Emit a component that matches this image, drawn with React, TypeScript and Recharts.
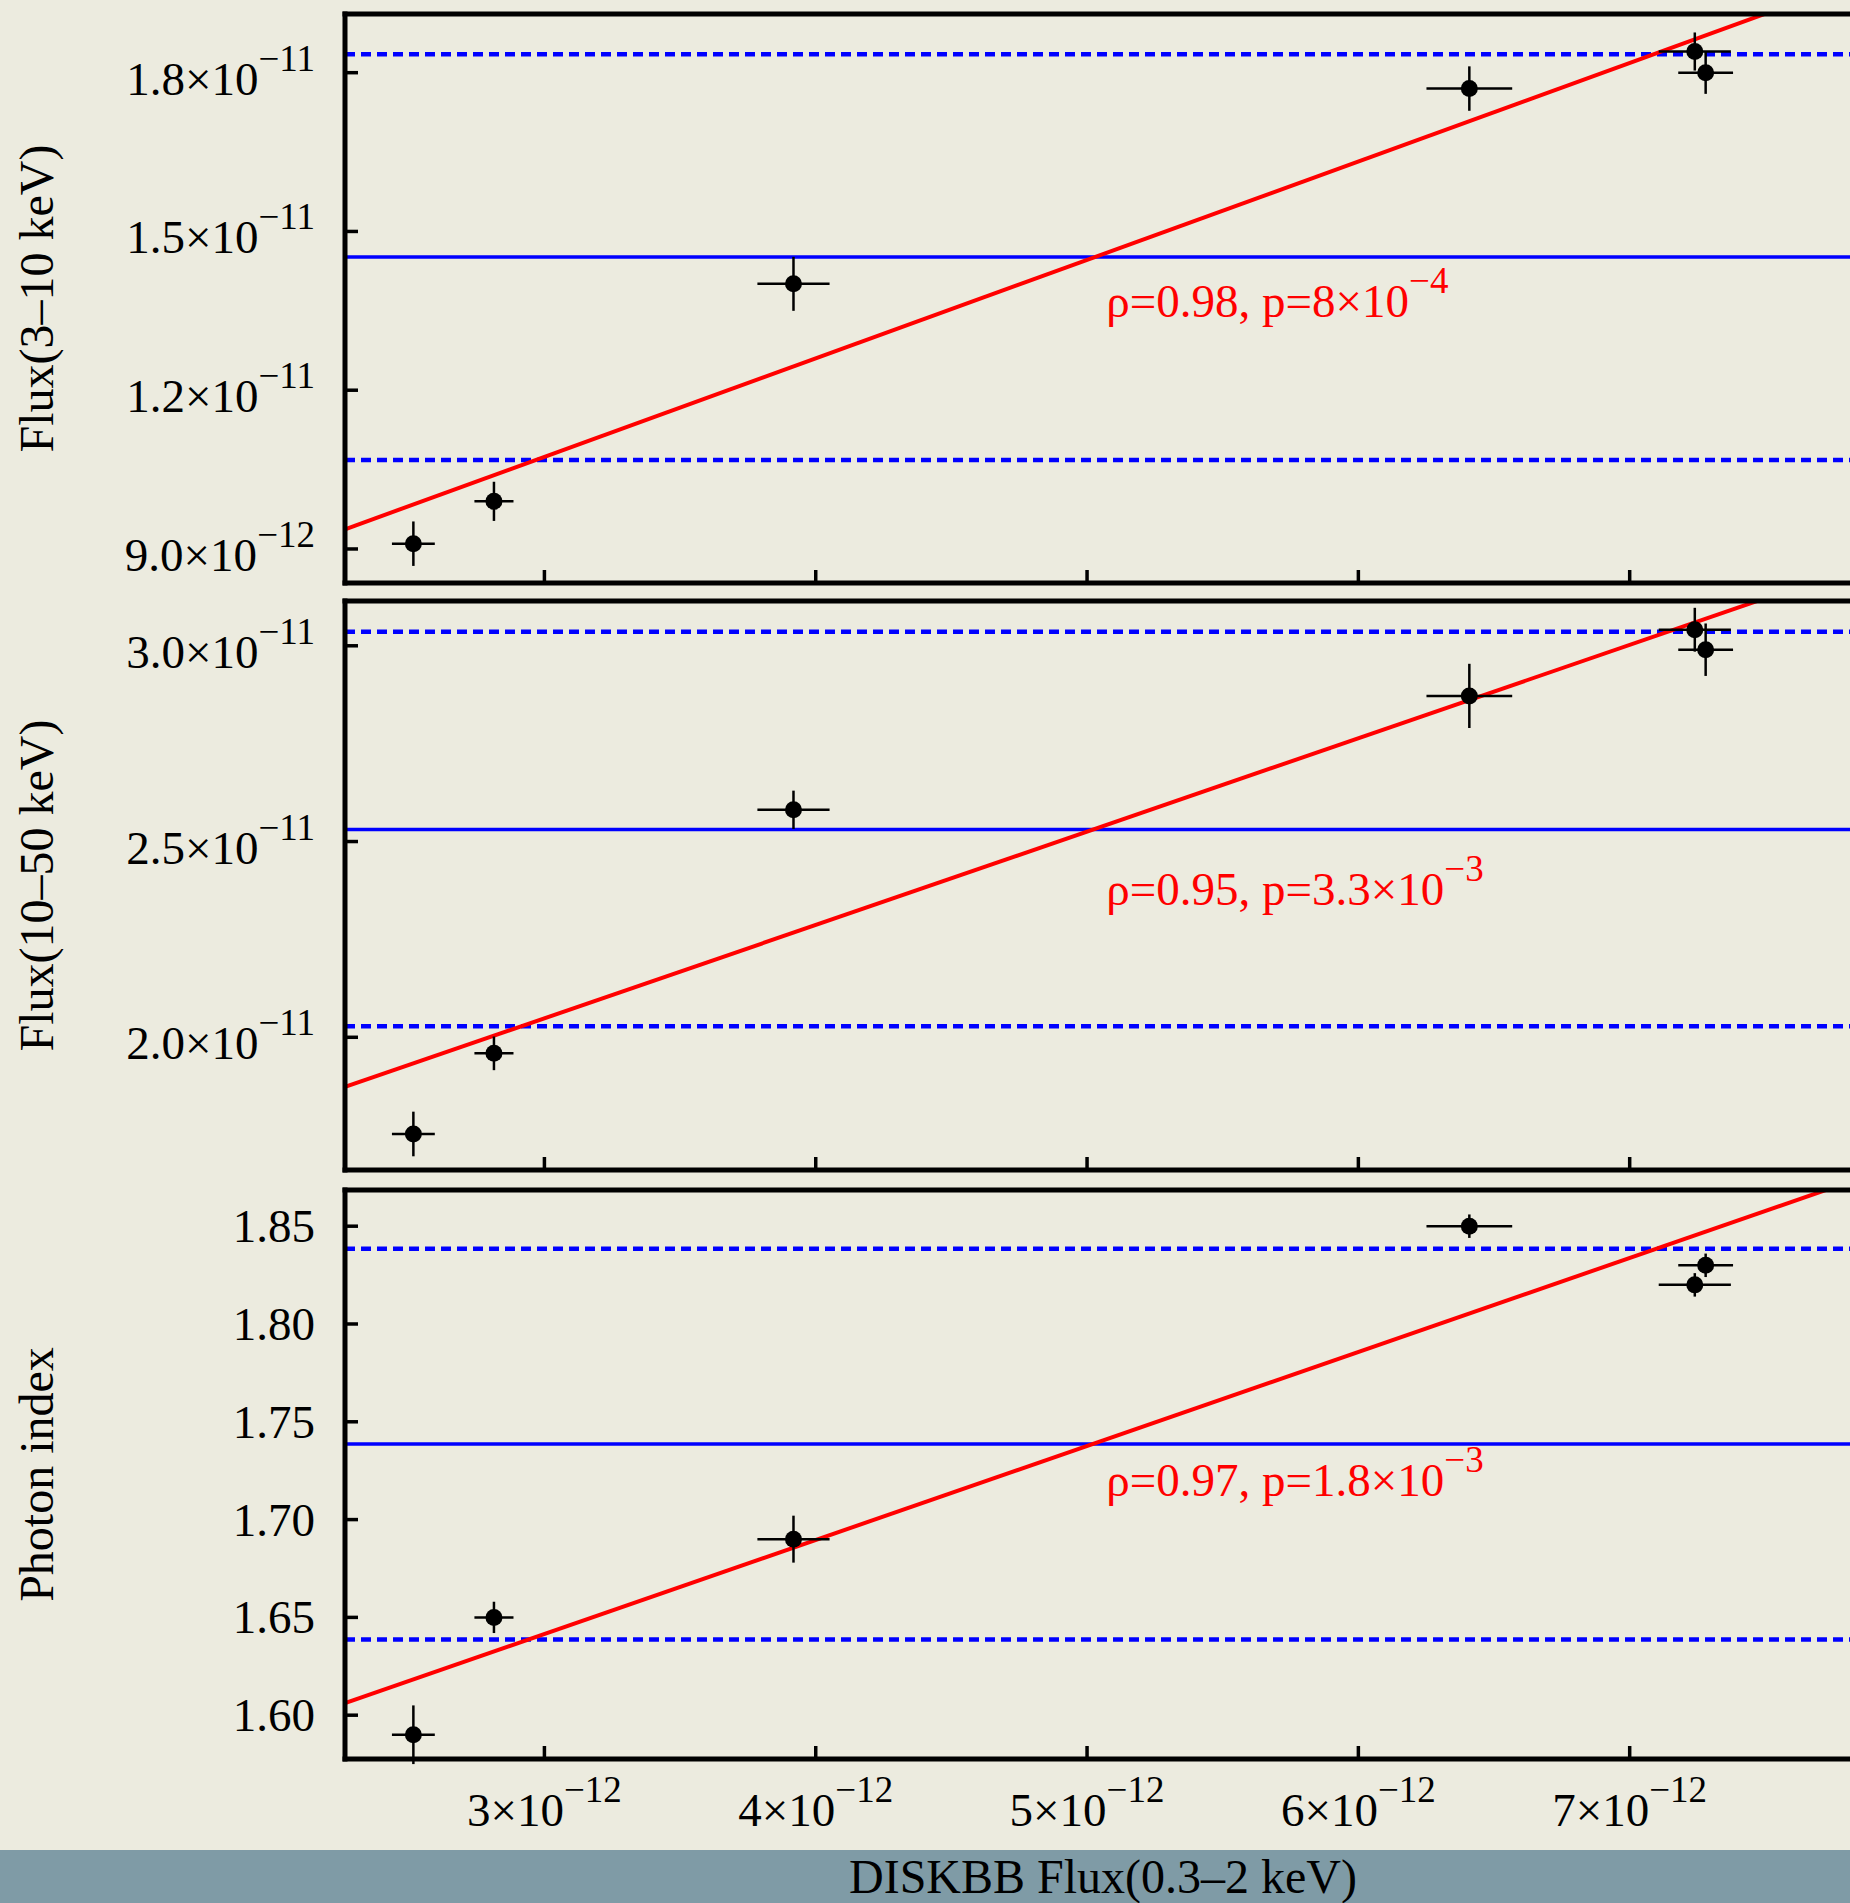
import React from 'react';
import {
  ScatterChart, Scatter, XAxis, YAxis, ErrorBar,
  ReferenceLine, ReferenceDot,
} from 'recharts';

// DISKBB flux (0.3-2 keV), shared x for all three panels
const diskbbFlux = [2.517e-12, 2.814e-12, 3.918e-12, 6.409e-12, 7.24e-12, 7.28e-12];
const diskbbErr = [0.079e-12, 0.072e-12, 0.133e-12, 0.158e-12, 0.133e-12, 0.101e-12];

const flux3to10 = [9.1e-12, 9.9e-12, 1.401e-11, 1.77e-11, 1.84e-11, 1.8e-11];
const flux3to10Err = [0.42e-12, 0.37e-12, 0.51e-12, 0.42e-12, 0.36e-12, 0.4e-12];

const flux10to50 = [1.753e-11, 1.959e-11, 2.581e-11, 2.872e-11, 3.041e-11, 2.99e-11];
const flux10to50Err = [0.57e-12, 0.43e-12, 0.49e-12, 0.82e-12, 0.56e-12, 0.67e-12];

const photonIndex = [1.59, 1.65, 1.69, 1.85, 1.82, 1.83];
const photonIndexErr = [0.015, 0.008, 0.012, 0.006, 0.006, 0.006];

// mean and mean +/- 1 sigma, one entry per panel
const meanLevel = [1.4515e-11, 2.531e-11, 1.7386];
const lowerLevel = [1.0682e-11, 2.0284e-11, 1.6387];
const upperLevel = [1.8348e-11, 3.036e-11, 1.8385];

// linear fits, read at both ends of the x range
const fitX = [2.265e-12, 8.0e-12];
const fitStart = [9.372e-12, 1.8731e-11, 1.6062];
const fitEnd = [2.0045e-11, 3.2408e-11, 1.8818];

const corrText = ['ρ=0.98, p=8×10', 'ρ=0.95, p=3.3×10', 'ρ=0.97, p=1.8×10'];
const corrExp = ['−4', '−3', '−3'];

const xTicks = [3e-12, 4e-12, 5e-12, 6e-12, 7e-12];
const ticks3to10 = [9e-12, 1.2e-11, 1.5e-11, 1.8e-11];
const ticks10to50 = [2e-11, 2.5e-11, 3e-11];
const ticksIndex = [1.6, 1.65, 1.7, 1.75, 1.8, 1.85];

const yTitles = ['Flux(3–10 keV)', 'Flux(10–50 keV)', 'Photon index'];
const xTitle = 'DISKBB Flux(0.3–2 keV)';

const FONT = '"Liberation Serif", "Times New Roman", Times, serif';
const FS = 47;
const SUP = 37;
const PLOT_LEFT = 345;
const PLOT_H = 569;
const PAD = 20;
const CHART_W = 1941;
const X_DOMAIN = [2.265e-12, 8.0e-12];
const NOTE_X = 5.071e-12;
const AXIS_LINE = { stroke: '#000', strokeWidth: 5, strokeLinecap: 'square' };

const panels = [
  { values: flux3to10, errs: flux3to10Err, ticks: ticks3to10, domain: [8.357e-12, 1.9109e-11], plotTop: 14, sci: true, noteY: 1.339e-11 },
  { values: flux10to50, errs: flux10to50Err, ticks: ticks10to50, domain: [1.661e-11, 3.1144e-11], plotTop: 601, sci: true, noteY: 2.3372e-11 },
  { values: photonIndex, errs: photonIndexErr, ticks: ticksIndex, domain: [1.5776, 1.8685], plotTop: 1190, sci: false, noteY: 1.7123 },
];

function sciParts(v: number, digits: number) {
  const e = Math.floor(Math.log10(v) + 1e-9);
  const mant = (v / Math.pow(10, e)).toFixed(digits);
  return { mant, exp: e < 0 ? '−' + String(-e) : String(e) };
}

const YTick = ({ x, y, payload, sci }: any) => {
  const v = payload.value;
  let label;
  if (sci) {
    const { mant, exp } = sciParts(v, 1);
    label = (
      <text x={x - 30} y={y + 22} textAnchor="end" fontFamily={FONT} fontSize={FS} fill="#000">
        {mant}×10<tspan dy={-24} fontSize={SUP}>{exp}</tspan>
      </text>
    );
  } else {
    label = (
      <text x={x - 30} y={y + 16} textAnchor="end" fontFamily={FONT} fontSize={FS} fill="#000">
        {v.toFixed(2)}
      </text>
    );
  }
  return (
    <g>
      <line x1={x} x2={x + 13} y1={y} y2={y} stroke="#000" strokeWidth={3.5} />
      {label}
    </g>
  );
};

const XTick = ({ x, y, payload, dir, labels }: any) => {
  const parts = labels ? sciParts(payload.value, 0) : null;
  return (
    <g>
      <line x1={x} x2={x} y1={y} y2={y + dir * 13} stroke="#000" strokeWidth={3.5} />
      {parts && (
        <text x={x} y={y + 67} textAnchor="middle" fontFamily={FONT} fontSize={FS} fill="#000">
          {parts.mant}×10<tspan dy={-24} fontSize={SUP}>{parts.exp}</tspan>
        </text>
      )}
    </g>
  );
};

const YTitle = ({ viewBox, text }: any) => {
  const vb = viewBox || { x: 0, y: PAD, width: PLOT_LEFT, height: PLOT_H };
  const cx = vb.x + 53;
  const cy = vb.y + vb.height / 2;
  return (
    <text x={cx} y={cy} transform={`rotate(-90, ${cx}, ${cy})`} textAnchor="middle"
      fontFamily={FONT} fontSize={48} fill="#000">
      {text}
    </text>
  );
};

function Panel({ idx }: { idx: number }) {
  const cfg = panels[idx];
  const isLast = idx === panels.length - 1;
  const bottomH = isLast ? 100 : PAD;
  const h = PAD + PLOT_H + bottomH;
  const pts = diskbbFlux.map((x, i) => ({ x, y: cfg.values[i], ex: diskbbErr[i], ey: cfg.errs[i] }));

  return (
    <div style={{ position: 'absolute', left: 0, top: cfg.plotTop - PAD }}>
      <ScatterChart width={CHART_W} height={h} margin={{ top: 0, right: 40, bottom: 0, left: 0 }}>
        <XAxis xAxisId="top" orientation="top" type="number" domain={X_DOMAIN} allowDataOverflow
          ticks={xTicks} interval={0} height={PAD} tickSize={0} tickMargin={0} tickLine={false}
          axisLine={AXIS_LINE} tick={(p: any) => <XTick {...p} dir={1} />} />
        <XAxis type="number" dataKey="x" domain={X_DOMAIN} allowDataOverflow
          ticks={xTicks} interval={0} height={bottomH} tickSize={0} tickMargin={0} tickLine={false}
          axisLine={AXIS_LINE} tick={(p: any) => <XTick {...p} dir={-1} labels={isLast} />} />
        <YAxis type="number" dataKey="y" domain={cfg.domain} allowDataOverflow
          ticks={cfg.ticks} interval={0} width={PLOT_LEFT} tickSize={0} tickMargin={0} tickLine={false}
          axisLine={AXIS_LINE} tick={(p: any) => <YTick {...p} sci={cfg.sci} />}
          label={<YTitle text={yTitles[idx]} />} />

        <ReferenceLine y={upperLevel[idx]} stroke="#0000FF" strokeWidth={4.5} strokeDasharray="10 6" />
        <ReferenceLine y={lowerLevel[idx]} stroke="#0000FF" strokeWidth={4.5} strokeDasharray="10 6" />
        <ReferenceLine y={meanLevel[idx]} stroke="#0000FF" strokeWidth={3.5} />
        <ReferenceLine
          segment={[{ x: fitX[0], y: fitStart[idx] }, { x: fitX[1], y: fitEnd[idx] }]}
          stroke="#FF0000" strokeWidth={4} ifOverflow="hidden" />

        <Scatter data={pts} isAnimationActive={false}
          shape={(p: any) => <circle cx={p.cx} cy={p.cy} r={8.5} fill="#000" />}>
          <ErrorBar dataKey="ex" direction="x" width={0} stroke="#000" strokeWidth={2.5} isAnimationActive={false} />
          <ErrorBar dataKey="ey" direction="y" width={0} stroke="#000" strokeWidth={2.5} isAnimationActive={false} />
        </Scatter>

        <ReferenceDot x={NOTE_X} y={cfg.noteY} r={0}
          shape={(p: any) => (
            <text x={p.cx} y={p.cy} fontFamily={FONT} fontSize={FS} fill="#FF0000">
              {corrText[idx]}<tspan dy={-24} fontSize={SUP}>{corrExp[idx]}</tspan>
            </text>
          )} />
      </ScatterChart>
    </div>
  );
}

export default function App() {
  return (
    <div style={{
      position: 'absolute', left: 0, top: 0, width: 1850, height: 1903,
      overflow: 'hidden', background: '#ECEBDF',
    }}>
      {panels.map((_, i) => <Panel key={i} idx={i} />)}
      <svg width={1850} height={53} style={{ position: 'absolute', left: 0, top: 1850 }}>
        <rect width={1850} height={53} fill="#7F9BA6" />
        <text x={1103} y={43} textAnchor="middle" fontFamily={FONT} fontSize={48} fill="#000">
          {xTitle}
        </text>
      </svg>
    </div>
  );
}
